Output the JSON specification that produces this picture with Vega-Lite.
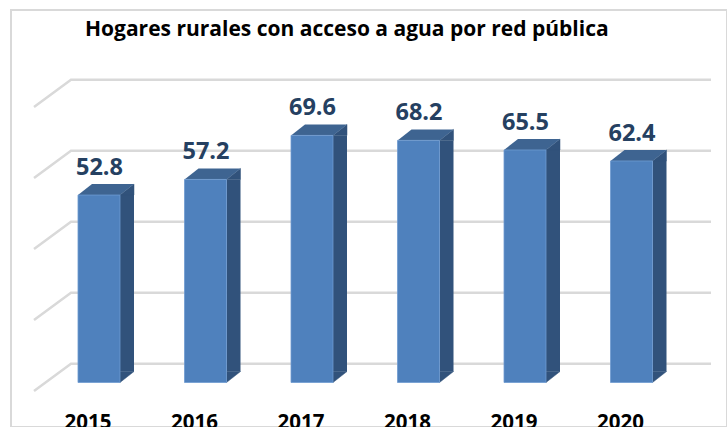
{"$schema":"https://vega.github.io/schema/vega-lite/v6.json","width":716,"height":417,"autosize":"none","padding":{"left":11,"top":10,"right":0,"bottom":0},"background":"white","view":{"stroke":"#d9d9d9","strokeWidth":2,"fill":null},"title":{"text":"Hogares rurales con acceso a agua por red pública","anchor":"start","frame":"group","dx":74,"offset":-47,"baseline":"alphabetic","font":"Open Sans","fontWeight":"bold","fontSize":21,"color":"#000000"},"datasets":{"bars":[{"year":"2015","value":52.8},{"year":"2016","value":57.2},{"year":"2017","value":69.6},{"year":"2018","value":68.2},{"year":"2019","value":65.5},{"year":"2020","value":62.4}],"grid":[{"tick":0},{"tick":20},{"tick":40},{"tick":60},{"tick":80}]},"data":{"name":"bars"},"encoding":{"x":{"field":"year","type":"nominal","sort":null,"title":null,"scale":{"paddingInner":0,"paddingOuter":0.3615,"align":0.4513,"round":false},"axis":{"domain":false,"ticks":false,"grid":false,"labelAngle":0,"labelPadding":-15,"labelOffset":-11,"labelBaseline":"top","labelFont":"Open Sans","labelFontWeight":"bold","labelFontSize":20.5,"labelColor":"#000000"}}},"layer":[{"data":{"name":"grid"},"mark":{"type":"point","shape":"M-65 8.5L-28 -18.8L612 -18.8","size":4,"filled":false,"stroke":"#d9d9d9","strokeWidth":2.5,"opacity":1},"encoding":{"x":{"datum":"2015"},"y":{"field":"tick","type":"quantitative","title":null,"scale":{"domain":[-12.54,104.93],"nice":false,"zero":false},"axis":null}}},{"mark":{"type":"bar","orient":"vertical","width":14,"xOffset":28,"color":"#31527B"},"encoding":{"y":{"field":"value","type":"quantitative"},"y2":{"datum":3.1}}},{"mark":{"type":"point","shape":"M21 0L35 -11L35 0Z","size":4,"filled":true,"color":"#31527B","stroke":"#31527B","strokeWidth":0.5,"opacity":1},"encoding":{"y":{"field":"value","type":"quantitative"}}},{"mark":{"type":"point","shape":"M21 0L35 -11L21 -11Z","size":4,"filled":true,"color":"#31527B","stroke":"#31527B","strokeWidth":0.5,"opacity":1},"encoding":{"y":{"datum":0}}},{"mark":{"type":"point","shape":"M-21 0L21 0L35 -11L-7 -11Z","size":4,"filled":true,"color":"#3E6491","opacity":1},"encoding":{"y":{"field":"value","type":"quantitative"}}},{"mark":{"type":"bar","orient":"vertical","width":42,"color":"#4F81BD","stroke":"#6E9AD0","strokeWidth":0.8},"encoding":{"y":{"field":"value","type":"quantitative"},"y2":{"datum":0}}},{"mark":{"type":"text","font":"Open Sans","fontWeight":"bold","fontSize":23.5,"color":"#254061","baseline":"alphabetic","yOffset":-20,"xOffset":0.5},"encoding":{"y":{"field":"value","type":"quantitative"},"text":{"field":"value","type":"quantitative","format":".1f"}}}]}
